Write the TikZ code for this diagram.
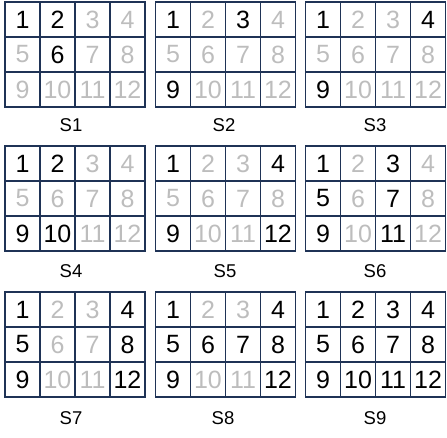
\documentclass[tikz,border=0pt]{standalone}
\usepackage{fontspec}
\setmainfont{Liberation Sans}
\definecolor{GridNavy}{HTML}{1F3356}
\definecolor{FadeGray}{HTML}{BDBDBD}

\begin{document}
\begin{tikzpicture}[x=1pt,y=-1pt,
      cell/.style={draw=GridNavy,line width=1.6pt,minimum width=35pt,
      minimum height=35pt,inner sep=0pt,outer sep=0pt,anchor=north west,
      font=\fontsize{25}{25}\selectfont},
      caption/.style={font=\fontsize{18.5}{18.5}\selectfont}]
      \useasboundingbox (0,0) rectangle (447,437);
      % name / grid corner / label position / which numbers are dark
      \foreach \sname/\gx/\gy/\lx/\ly/\marks in {
          S1/5/2/71/125/{1,1,0,0,0,1,0,0,0,0,0,0},
          S2/155.5/2/224/125/{1,0,1,0,0,0,0,0,1,0,0,0},
          S3/305.5/2/375/125/{1,0,0,1,0,0,0,0,1,0,0,0},
          S4/5/146/71/271/{1,1,0,0,0,0,0,0,1,1,0,0},
          S5/155.5/146/225/271/{1,0,0,1,0,0,0,0,1,0,0,1},
          S6/305.5/146/375/271/{1,0,1,0,1,0,1,0,1,0,1,0},
          S7/5/292/71/418/{1,0,0,1,1,0,0,1,1,0,0,1},
          S8/155.5/292/223/418/{1,0,0,1,1,1,1,1,1,0,0,1},
          S9/305.5/292/375/418/{1,1,1,1,1,1,1,1,1,1,1,1}}{
        \foreach \m [count=\n from 0] in \marks {
          \pgfmathtruncatemacro{\cx}{mod(\n,4)}
          \pgfmathtruncatemacro{\cy}{int(\n/4)}
          \pgfmathtruncatemacro{\num}{\n+1}
          \ifnum\m=1 \def\tc{black}\else\def\tc{FadeGray}\fi
          \node[cell,text=\tc] (\sname-\num) at (\gx+35*\cx,\gy+35*\cy) {\num};
        }
        \node[caption] (\sname-lbl) at (\lx,\ly) {\sname};
      }
    \end{tikzpicture}
\end{document}
